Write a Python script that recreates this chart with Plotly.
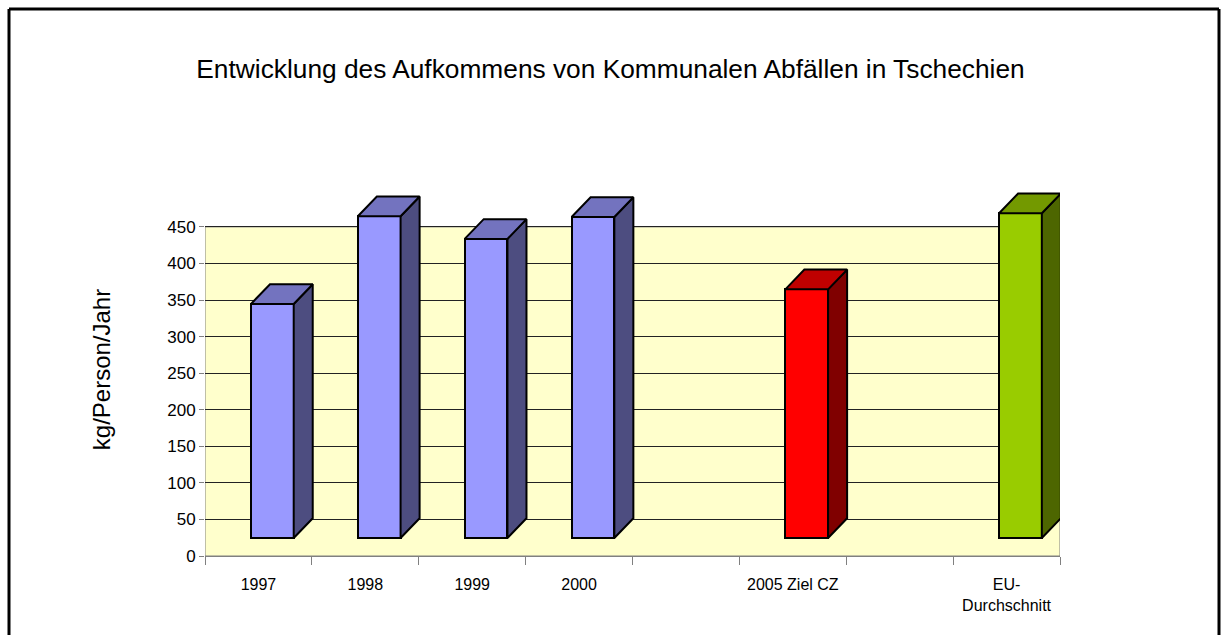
import plotly.graph_objects as go

FONT = "Liberation Sans, Arial, sans-serif"

# data (kg per person and year)
categories = ["1997", "1998", "1999", "2000", "", "2005 Ziel CZ", "", "EU-<br>Durchschnitt"]
values = [320, 440, 409, 439, None, 340, None, 444]
front_colors = ["#9999FF", "#9999FF", "#9999FF", "#9999FF", None, "#FF0000", None, "#99CC00"]
top_colors = ["#7373BF", "#7373BF", "#7373BF", "#7373BF", None, "#BF0000", None, "#739900"]
side_colors = ["#4D4D80", "#4D4D80", "#4D4D80", "#4D4D80", None, "#800000", None, "#4D6600"]
y_ticks = [0, 50, 100, 150, 200, 250, 300, 350, 400, 450]

# fake 3D geometry (axis units)
BAR_W = 0.40      # front face width, in category slots
BAR_SHIFT = 0.13  # front face centre right of slot centre
DEPTH_X = 0.178   # depth offset to the right, in slots
DEPTH_Y = 27      # depth offset upwards, in value units
LIFT = 24.6       # front face starts above the floor line
Y_MAX = 510

# layout in pixels
W, H = 1221, 635
M = {"l": 205, "r": 161, "t": 183, "b": 79}
PW = W - M["l"] - M["r"]
PH = H - M["t"] - M["b"]

fig = go.Figure()

xc = [i + 0.5 + BAR_SHIFT for i in range(len(categories))]

# front faces
for i, v in enumerate(values):
    if v is None:
        continue
    fig.add_trace(go.Bar(
        x=[xc[i]], y=[v], base=[LIFT], width=[BAR_W],
        marker_color=front_colors[i],
        marker_line_color="black", marker_line_width=2,
        showlegend=False, hoverinfo="skip",
    ))

# side and top faces
for i, v in enumerate(values):
    if v is None:
        continue
    xl = xc[i] - BAR_W / 2
    xr = xc[i] + BAR_W / 2
    y0 = LIFT
    y1 = LIFT + v
    fig.add_trace(go.Scatter(
        x=[xr, xr + DEPTH_X, xr + DEPTH_X, xr, xr],
        y=[y0, y0 + DEPTH_Y, y1 + DEPTH_Y, y1, y0],
        mode="lines", fill="toself", fillcolor=side_colors[i],
        line=dict(color="black", width=2),
        showlegend=False, hoverinfo="skip",
    ))
    fig.add_trace(go.Scatter(
        x=[xl, xl + DEPTH_X, xr + DEPTH_X, xr, xl],
        y=[y1, y1 + DEPTH_Y, y1 + DEPTH_Y, y1, y1],
        mode="lines", fill="toself", fillcolor=top_colors[i],
        line=dict(color="black", width=2),
        showlegend=False, hoverinfo="skip",
    ))

# yellow back wall
fig.add_shape(
    type="rect", xref="x", yref="y",
    x0=0, x1=len(categories), y0=0, y1=y_ticks[-1],
    fillcolor="#FFFFCC", line=dict(color="#808080", width=1),
    layer="below",
)

# outer frame: left, top and right edges, running down to the picture's bottom
fx0 = (9 - M["l"]) / PW
fx1 = (1219 - M["l"]) / PW
fy0 = (M["t"] + PH - H) / PH
fy1 = (M["t"] + PH - 9) / PH
for x0, y0, x1, y1 in [(fx0, fy0, fx0, fy1), (fx0, fy1, fx1, fy1), (fx1, fy1, fx1, fy0)]:
    fig.add_shape(
        type="line", xref="paper", yref="paper",
        x0=x0, y0=y0, x1=x1, y1=y1,
        line=dict(color="black", width=3),
        layer="above",
    )

fig.update_layout(
    width=W, height=H,
    margin=M,
    paper_bgcolor="white",
    plot_bgcolor="white",
    font=dict(family=FONT, size=16, color="black"),
    title=dict(
        text="Entwicklung des Aufkommens von Kommunalen Abfällen in Tschechien",
        font=dict(family=FONT, size=26.3, color="black"),
        x=0.5, xanchor="center", xref="container",
        y=1 - 69 / H, yanchor="middle", yref="container",
    ),
    bargap=0,
    showlegend=False,
)

fig.update_xaxes(
    range=[0, len(categories)],
    tickvals=[i + 0.5 for i in range(len(categories))],
    ticktext=categories,
    ticks="",
    ticklabelstandoff=14,
    tickfont=dict(size=16),
    showgrid=False,
    zeroline=False,
    showline=True, linecolor="#808080", linewidth=1,
    minor=dict(ticks="outside", ticklen=8, tickcolor="#808080", tick0=0, dtick=1, showgrid=False),
    fixedrange=True,
)

fig.update_yaxes(
    range=[0, Y_MAX],
    tickvals=y_ticks,
    ticks="outside", ticklen=5, tickcolor="#808080",
    tickfont=dict(size=17),
    showgrid=True, gridcolor="#222222", gridwidth=1,
    zeroline=False,
    showline=False,
    title=dict(text="kg/Person/Jahr", font=dict(size=24), standoff=49),
    fixedrange=True,
)

# page margin off, so the figure sits at the window's corner
fig.write_html(
    "out.html",
    config={"displayModeBar": False},
    post_script="document.body.style.margin='0';document.body.style.overflow='hidden';",
)
